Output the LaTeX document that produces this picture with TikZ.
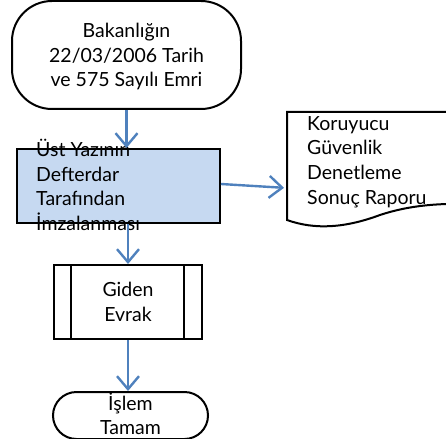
\documentclass[tikz,border=0pt]{standalone}
\usepackage{fontspec}
\setmainfont{Lato}
\usetikzlibrary{shapes,arrows.meta,positioning}
\definecolor{arrowblue}{RGB}{79,129,189}
\definecolor{boxblue}{RGB}{198,217,241}

\begin{document}
\begin{tikzpicture}[x=1pt,y=-1pt,% styles for all nodes and edges
      every node/.style={
        align=center,
        inner sep=0pt,
        font=\fontsize{19.5}{24.7}\selectfont
      },
      every edge/.style={draw,line width=2.4pt,arrowblue,-{Straight Barb[length=13pt,width=22pt]}},
      shapebox/.style={draw=black,line width=2pt}
    ]
    \clip (0,0) rectangle (446,438);
    \node[shapebox,rounded corners=40pt,minimum width=229pt,minimum height=108pt,text depth=0pt](bakan) at (126.5,55) {Bakanlığın \\ 22/03/2006 Tarih \\ ve 575 Sayılı Emri};
    \node[shapebox,fill=boxblue,minimum width=203pt,minimum height=74pt](imza)[below=38pt of bakan,xshift=-8pt]{};
    \node[anchor=north west,align=left](imzatxt) at (36,139) {Üst Yazının \\ Defterdar \\ Tarafından \\ İmzalanması};
    \node[shapebox,minimum width=148pt,minimum height=74pt](giden)[below=40pt of imza,xshift=9.5pt]{Giden \\ Evrak};
    \draw[shapebox] ([xshift=18pt]giden.north west) -- ([xshift=18pt]giden.south west)
      ([xshift=-19pt]giden.north east) -- ([xshift=-19pt]giden.south east);
    \node[shapebox,rounded corners=23.5pt,minimum width=155pt,minimum height=47pt,text height=37pt,text depth=0pt,
      font=\fontsize{19.5}{23.5}\selectfont](islem)[below=51pt of giden,xshift=2.5pt]{İşlem \\ Tamam};
    % document shape, cut by the right edge
    \coordinate (rapor) at (287,112);
    \draw[shapebox] (rapor) -- (477,112) -- (477,204)
      .. controls (440,203) and (410,205) .. (380,215)
      .. controls (345,228) and (315,230) .. (287,220) -- cycle;
    \node[anchor=north west,align=left](raportxt) at (307,116) {Koruyucu \\ Güvenlik \\ Denetleme \\ Sonuç Raporu};
    \path
    (bakan.south) edge (bakan.south |- imza.north)
    ([yshift=2pt]imza.east) edge[shorten >=3pt] ([yshift=-2pt]rapor |- imza.east)
    (imza.south -| giden) edge (giden.north)
    (giden.south) edge (giden.south |- islem.north)
    ;
  \end{tikzpicture}
\end{document}
